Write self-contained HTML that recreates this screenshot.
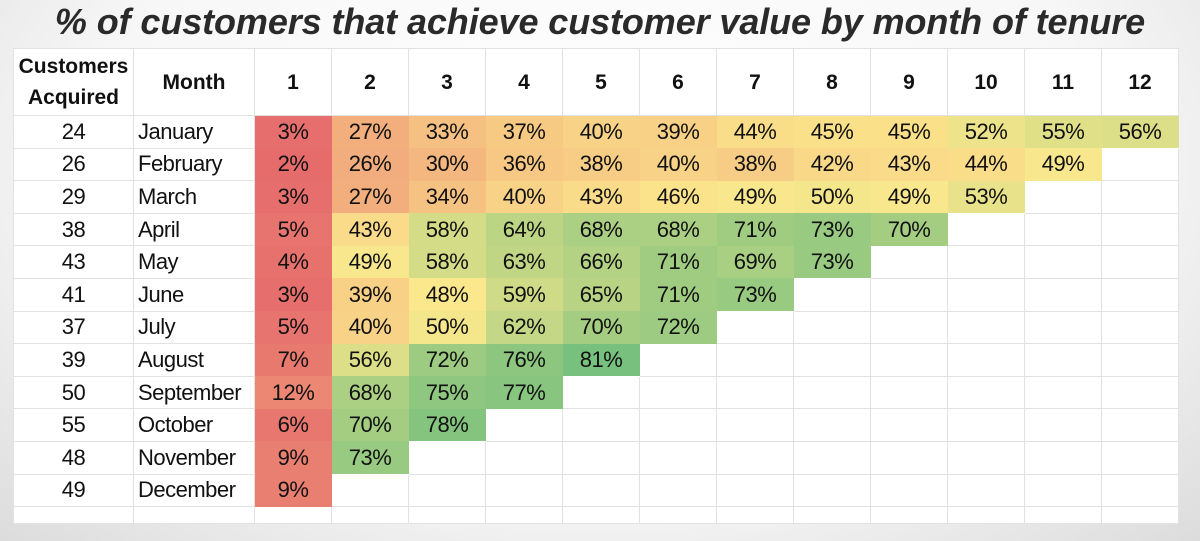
<!DOCTYPE html>
<html><head><meta charset="utf-8"><style>
body{margin:0;width:1200px;height:541px;overflow:hidden;background:radial-gradient(ellipse at 50% 30%,#ffffff 0%,#f7f7f7 60%,#dcdcdc 100%);font-family:"Liberation Sans",sans-serif;position:relative}
h1{position:absolute;top:0;left:0;width:1200px;margin:0;text-align:center;font-size:36px;font-style:italic;font-weight:bold;color:#2a2a2a;line-height:44px;letter-spacing:-0.1px}
table{position:absolute;left:13px;top:48px;border-collapse:collapse;background:#fff;table-layout:fixed;width:1165px}
td{border:1px solid #e2e2e2;font-size:22px;color:#111;text-align:center;padding:0;height:31.6px;white-space:nowrap;letter-spacing:-0.5px}
tr.h td{height:66px;font-weight:bold;font-size:21px;line-height:31px;letter-spacing:0}
td.m{text-align:left;padding-left:4px}
tr.e td{height:16px}
</style></head><body>
<h1>% of customers that achieve customer value by month of tenure</h1>
<table id="t">
<colgroup><col style="width:120px"><col style="width:121px"><col span="12" style="width:77px"></colgroup>
<tr class="h"><td>Customers<br>Acquired</td><td>Month</td><td>1</td><td>2</td><td>3</td><td>4</td><td>5</td><td>6</td><td>7</td><td>8</td><td>9</td><td>10</td><td>11</td><td>12</td></tr>
<tr><td>24</td><td class="m">January</td><td>3%</td><td>27%</td><td>33%</td><td>37%</td><td>40%</td><td>39%</td><td>44%</td><td>45%</td><td>45%</td><td>52%</td><td>55%</td><td>56%</td></tr>
<tr><td>26</td><td class="m">February</td><td>2%</td><td>26%</td><td>30%</td><td>36%</td><td>38%</td><td>40%</td><td>38%</td><td>42%</td><td>43%</td><td>44%</td><td>49%</td><td></td></tr>
<tr><td>29</td><td class="m">March</td><td>3%</td><td>27%</td><td>34%</td><td>40%</td><td>43%</td><td>46%</td><td>49%</td><td>50%</td><td>49%</td><td>53%</td><td></td><td></td></tr>
<tr><td>38</td><td class="m">April</td><td>5%</td><td>43%</td><td>58%</td><td>64%</td><td>68%</td><td>68%</td><td>71%</td><td>73%</td><td>70%</td><td></td><td></td><td></td></tr>
<tr><td>43</td><td class="m">May</td><td>4%</td><td>49%</td><td>58%</td><td>63%</td><td>66%</td><td>71%</td><td>69%</td><td>73%</td><td></td><td></td><td></td><td></td></tr>
<tr><td>41</td><td class="m">June</td><td>3%</td><td>39%</td><td>48%</td><td>59%</td><td>65%</td><td>71%</td><td>73%</td><td></td><td></td><td></td><td></td><td></td></tr>
<tr><td>37</td><td class="m">July</td><td>5%</td><td>40%</td><td>50%</td><td>62%</td><td>70%</td><td>72%</td><td></td><td></td><td></td><td></td><td></td><td></td></tr>
<tr><td>39</td><td class="m">August</td><td>7%</td><td>56%</td><td>72%</td><td>76%</td><td>81%</td><td></td><td></td><td></td><td></td><td></td><td></td><td></td></tr>
<tr><td>50</td><td class="m">September</td><td>12%</td><td>68%</td><td>75%</td><td>77%</td><td></td><td></td><td></td><td></td><td></td><td></td><td></td><td></td></tr>
<tr><td>55</td><td class="m">October</td><td>6%</td><td>70%</td><td>78%</td><td></td><td></td><td></td><td></td><td></td><td></td><td></td><td></td><td></td></tr>
<tr><td>48</td><td class="m">November</td><td>9%</td><td>73%</td><td></td><td></td><td></td><td></td><td></td><td></td><td></td><td></td><td></td><td></td></tr>
<tr><td>49</td><td class="m">December</td><td>9%</td><td></td><td></td><td></td><td></td><td></td><td></td><td></td><td></td><td></td><td></td><td></td></tr>
<tr class="e"><td></td><td></td><td></td><td></td><td></td><td></td><td></td><td></td><td></td><td></td><td></td><td></td><td></td><td></td></tr>
</table>
<script>
var R=[230,108,108],Y=[252,232,140],G=[120,192,125];
function mix(a,b,t){return 'rgb('+a.map(function(v,i){return Math.round(v+(b[i]-v)*t)}).join(',')+')';}
document.querySelectorAll('#t td').forEach(function(td){
var s=td.textContent;if(!/%$/.test(s))return;var v=parseFloat(s);
td.style.background=v<=48?mix(R,Y,(v-2)/46):mix(Y,G,Math.min(1,(v-48)/33));
td.style.borderColor='transparent';});
</script>
</body></html>
